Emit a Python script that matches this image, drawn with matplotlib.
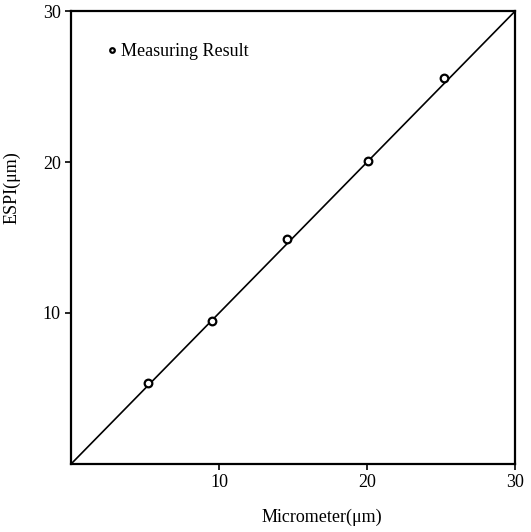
import matplotlib
matplotlib.use("Agg")
import matplotlib.pyplot as plt

micrometer = [5.2, 9.5, 14.6, 20.05, 25.2]
espi = [5.35, 9.5, 14.9, 20.05, 25.55]
fit_x = [0, 30]
fit_y = [0, 30]
ticks = [10, 20, 30]
tick_labels = ["10", "20", "30"]

plt.rcParams['font.family'] = ['Liberation Serif', 'DejaVu Serif']

fig = plt.figure(figsize=(5.31, 5.32), dpi=100)
ax = fig.add_axes([0.134, 0.128, 0.836, 0.851])

ax.plot(fit_x, fit_y, color='black', lw=1.2)
ax.plot(micrometer, espi, 'o', mfc='white', mec='black', ms=5.5, mew=1.6,
        label='Measuring Result')

ax.set_xlim(0, 30)
ax.set_ylim(0, 30)
ax.set_xticks(ticks)
ax.set_xticklabels(tick_labels)
ax.set_yticks(ticks)
ax.set_yticklabels(tick_labels)
ax.tick_params(direction='out', length=4, width=1.2, labelsize=13)
for s in ax.spines.values():
    s.set_linewidth(1.6)

ax.set_xlabel('Micrometer(μm)', fontsize=13)
ax.set_ylabel('ESPI(μm)', fontsize=13)
ax.xaxis.set_label_coords(0.565, -0.098)
ax.yaxis.set_label_coords(-0.115, 0.61)

leg = ax.legend(loc='upper left', bbox_to_anchor=(0.035, 0.965), frameon=False,
                fontsize=13, handletextpad=0.0, handlelength=1.0, markerscale=0.6)

fig.savefig('out.png', dpi=100)
